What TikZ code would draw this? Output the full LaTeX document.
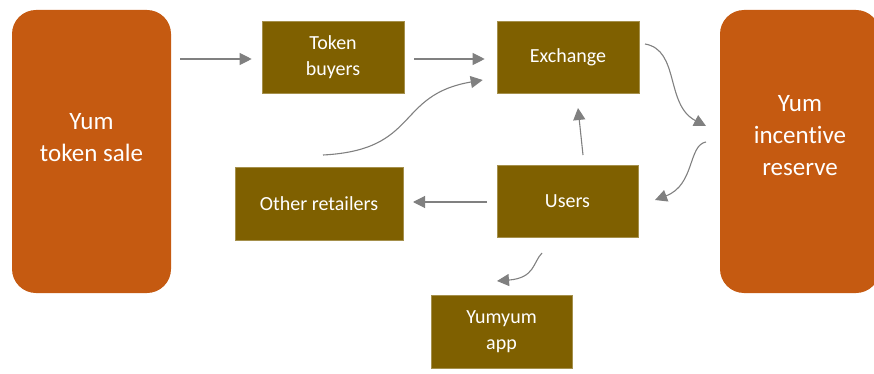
\documentclass[tikz,border=0pt]{standalone}
\usepackage{fontspec}
\setmainfont[Ligatures={NoCommon}]{Carlito}
\usetikzlibrary{arrows.meta}
\definecolor{rust}{HTML}{C55A11}
\definecolor{olive}{HTML}{7F6000}
\definecolor{arrowgray}{HTML}{808080}
\tikzset{
  bigbox/.style={fill=rust, rounded corners=24pt, inner sep=0pt},
  bigtext/.style={text=white, font=\fontsize{25}{32}\selectfont, align=center, inner sep=0pt},
  smallbox/.style={fill=olive, draw=olive!70!white, line width=0.6pt, inner sep=0pt,
    text=white, font=\fontsize{20}{25.5}\selectfont, align=center},
  flow/.style={draw=arrowgray, line width=1.1pt, -{Triangle[length=12pt,width=12pt]}, fill=none}
}
\begin{document}
\begin{tikzpicture}[x=1pt, y=-1pt]
\useasboundingbox (0,0) rectangle (874,374);

% side blocks
\node[bigbox, minimum width=159pt, minimum height=283pt] (sale) at (91.5,151.5) {};
\node[bigtext] (saletext) at (91.5,138) {Yum\\token sale};
\node[bigbox, minimum width=160pt, minimum height=283pt] (reserve) at (800,151.5) {};
\node[bigtext] (reservetext) at (800,136) {Yum\\incentive\\reserve};

% inner boxes
\node[smallbox, minimum width=142pt, minimum height=72pt] (buyers) at (333,57) {Token\\buyers};
\node[smallbox, minimum width=142pt, minimum height=72pt] (exchange) at (568,57) {Exchange};
\node[smallbox, minimum width=168pt, minimum height=73pt] (retail) at (319,203.5) {Other retailers};
\node[smallbox, minimum width=141pt, minimum height=72pt] (users) at (567.5,201) {Users};
\node[smallbox, minimum width=141pt, minimum height=73pt] (yumyum) at (501.5,331.5) {Yumyum\\app};

% free ends of the connectors
\coordinate (saleout) at (180,59);
\coordinate (buyout) at (414,59);
\coordinate (retailout) at (323,155);
\coordinate (exchout) at (645,44);
\coordinate (resin) at (706,126);
\coordinate (resout) at (706,142);
\coordinate (usersin) at (655,200);
\coordinate (usersup) at (583,155);
\coordinate (exchin) at (578,108);
\coordinate (usersleft) at (487,202);
\coordinate (retailin) at (413,202);
\coordinate (usersdown) at (542,253);
\coordinate (appin) at (497,281);

% connectors
\draw[flow] (saleout) -- ([xshift=-10pt,yshift=-2pt]buyers.west);
\draw[flow] (buyout) -- ([xshift=-12pt,yshift=-2pt]exchange.west);
\draw[flow] (retailout) .. controls (420,150) and (395,95) .. ([xshift=-14pt,yshift=-23pt]exchange.west);
\draw[flow] (exchout) .. controls (680,50) and (665,105) .. (resin);
\draw[flow] (resout) .. controls (688,145) and (695,185) .. (usersin);
\draw[flow] (usersup) -- (exchin);
\draw[flow] (usersleft) -- (retailin);
\draw[flow] (usersdown) .. controls (533,262) and (535,278) .. (appin);
\end{tikzpicture}
\end{document}
